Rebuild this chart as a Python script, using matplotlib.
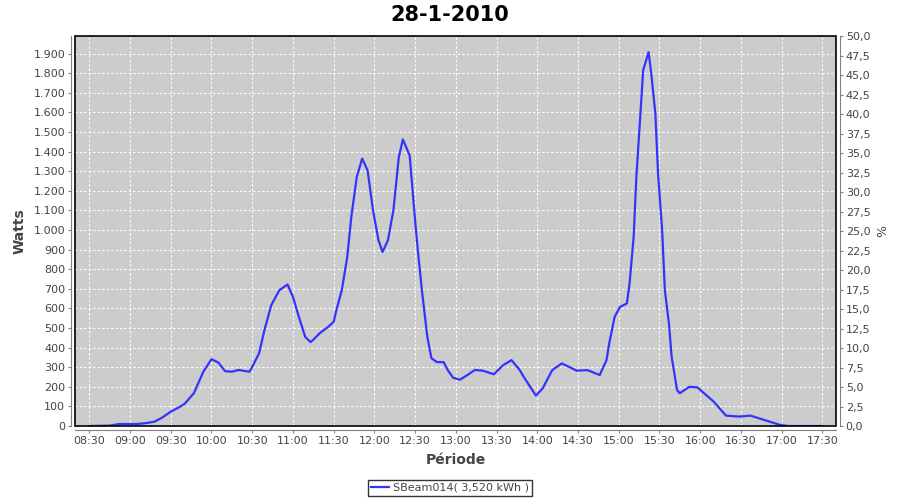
import matplotlib
matplotlib.use('Agg')
import matplotlib.pyplot as plt
from matplotlib.patches import Rectangle
from matplotlib.ticker import FuncFormatter, MultipleLocator

# Readings taken off the chart (time of day, watts)
times = ['08:30', '08:45', '08:52', '09:05', '09:12', '09:18', '09:23', '09:30',
         '09:36', '09:40', '09:47', '09:54', '10:00', '10:05', '10:10', '10:15',
         '10:20', '10:25', '10:28', '10:30', '10:35', '10:39', '10:44', '10:50',
         '10:56', '11:00', '11:04', '11:09', '11:13', '11:15', '11:20', '11:26',
         '11:30', '11:32', '11:36', '11:40', '11:43', '11:47', '11:51', '11:55',
         '11:59', '12:03', '12:06', '12:10', '12:14', '12:18', '12:21', '12:26',
         '12:30', '12:32', '12:35', '12:39', '12:42', '12:46', '12:51', '12:54',
         '12:58', '13:03', '13:09', '13:14', '13:20', '13:28', '13:35', '13:41',
         '13:47', '13:50', '13:59', '14:04', '14:11', '14:18', '14:24', '14:29',
         '14:37', '14:46', '14:51', '14:53', '14:57', '15:01', '15:06', '15:08',
         '15:11', '15:13', '15:16', '15:18', '15:22', '15:24', '15:27', '15:29',
         '15:32', '15:34', '15:37', '15:39', '15:43', '15:45', '15:52', '15:58',
         '16:10', '16:19', '16:29', '16:37', '16:49', '16:59', '17:05', '17:30']
watts = [0, 2, 10, 10, 15, 22, 40, 73,
         95, 112, 167, 277, 341, 324, 280, 277,
         286, 280, 277, 302, 370, 489, 616, 693,
         722, 659, 565, 455, 428, 440, 475, 506,
         531, 591, 693, 862, 1066, 1270, 1364, 1304,
         1100, 948, 888, 948, 1100, 1372, 1462, 1380,
         1049, 897, 693, 455, 346, 326, 326, 286,
         246, 236, 262, 286, 282, 264, 311, 336,
         286, 251, 155, 192, 285, 319, 300, 282,
         285, 260, 336, 421, 557, 608, 625, 727,
         964, 1270, 1593, 1814, 1907, 1797, 1593, 1287,
         998, 693, 523, 353, 183, 167, 200, 197,
         124, 53, 48, 53, 27, 5, 0, 0]

tick_times = ['08:30', '09:00', '09:30', '10:00', '10:30', '11:00', '11:30', '12:00',
              '12:30', '13:00', '13:30', '14:00', '14:30', '15:00', '15:30', '16:00',
              '16:30', '17:00', '17:30']

title = '28-1-2010'
series_label = 'SBeam014( 3,520 kWh )'


def to_hours(s):
    h, m = s.split(':')
    return int(h) + int(m) / 60.0


x = [to_hours(t) for t in times]
xt = [to_hours(t) for t in tick_times]

plt.rcParams['font.family'] = ['DejaVu Sans']
axis_grey = '#808080'
text_grey = '#444444'

fig = plt.figure(figsize=(9, 5), dpi=100)
ax = fig.add_axes([75 / 900, 1 - 426 / 500, (836 - 75) / 900, (426 - 35.7) / 500])
ax.set_facecolor('#cccccc')

line, = ax.plot(x, watts, color='#3333ff', lw=1.6, label=series_label)

ax.set_xlim(8.324, 17.668)
ax.set_ylim(0, 1991)
ax.set_xticks(xt)
ax.set_xticklabels(tick_times)
ax.yaxis.set_major_locator(MultipleLocator(100))
ax.yaxis.set_major_formatter(FuncFormatter(lambda v, p: f'{int(round(v)):,}'.replace(',', '.')))
ax.grid(True, color='white', linestyle=(0, (2, 2)), linewidth=0.8)

# right-hand percentage axis
ax2 = ax.twinx()
ax2.set_ylim(0, 50.1)
ax2.yaxis.set_major_locator(MultipleLocator(2.5))
ax2.yaxis.set_major_formatter(FuncFormatter(lambda v, p: f'{v:.1f}'.replace('.', ',')))
ax2.set_ylabel('%', fontsize=9, color=text_grey, labelpad=4)

for a in (ax, ax2):
    for side in ('left', 'right', 'bottom'):
        a.spines[side].set_position(('outward', 3))
        a.spines[side].set_color(axis_grey)
    a.spines['top'].set_visible(False)
    a.tick_params(colors=axis_grey, labelcolor=text_grey, labelsize=8, length=2, width=0.8, pad=2)
ax.spines['right'].set_visible(False)
ax2.spines['left'].set_visible(False)
ax2.spines['bottom'].set_visible(False)

# black frame round the plot area
ax.add_patch(Rectangle((0, 0), 1, 1, transform=ax.transAxes, fill=False,
                       edgecolor='black', lw=1.2, clip_on=False, zorder=5))

ax.set_ylabel('Watts', fontsize=10, fontweight='bold', color=text_grey, labelpad=5)
ax.set_xlabel('Période', fontsize=10, fontweight='bold', color=text_grey, labelpad=5)
fig.suptitle(title, fontsize=15, fontweight='bold', y=0.99)

leg = fig.legend(handles=[line], loc='center', bbox_to_anchor=(450 / 900, 1 - 488 / 500),
                 frameon=True, fancybox=False, fontsize=8, handlelength=1.6,
                 handletextpad=0.4, borderpad=0.3, borderaxespad=0)
leg.get_frame().set_edgecolor('black')
leg.get_frame().set_linewidth(1.0)
for t in leg.get_texts():
    t.set_color(text_grey)

fig.savefig('out.png', dpi=100)
